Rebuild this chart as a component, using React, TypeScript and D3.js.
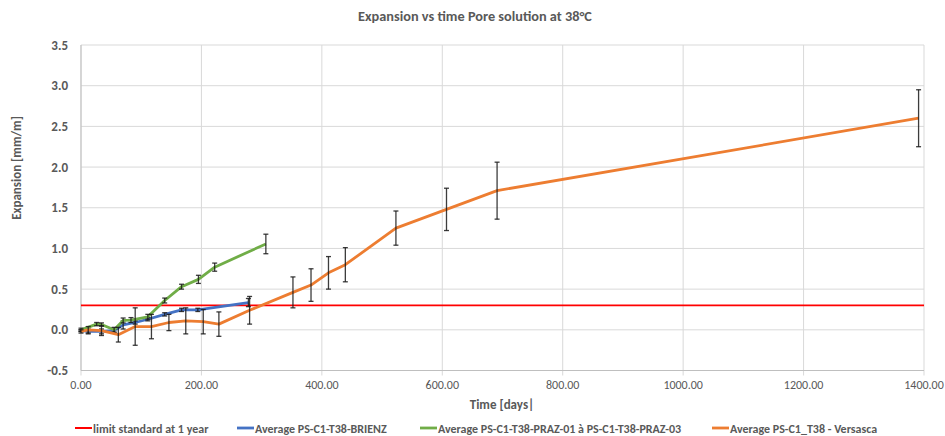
import React from "react";
import * as d3 from "d3";

// ---------- data ----------
const xTicks = [0, 200, 400, 600, 800, 1000, 1200, 1400];
const yTicks = [-0.5, 0, 0.5, 1.0, 1.5, 2.0, 2.5, 3.0, 3.5];

const limitValue = 0.3;

const daysBrienz = [0, 12, 34, 55, 70, 90, 111, 139, 167, 194, 278];
const expBrienz = [-0.01, -0.02, -0.02, -0.01, 0.06, 0.09, 0.13, 0.19, 0.245, 0.245, 0.335];
const errBrienz = [0.01, 0.03, 0.03, 0.02, 0.05, 0.02, 0.02, 0.02, 0.02, 0.02, 0.05];

const daysPraz = [0, 26, 34, 55, 70, 83, 111, 139, 167, 195, 222, 307];
const expPraz = [0.0, 0.07, 0.065, 0.0, 0.115, 0.12, 0.16, 0.36, 0.53, 0.62, 0.77, 1.055];
const errPraz = [0.02, 0.02, 0.02, 0.03, 0.03, 0.03, 0.03, 0.03, 0.03, 0.05, 0.05, 0.12];

const daysVersasca = [0, 12, 34, 62, 90, 117, 146, 174, 203, 229, 280, 352, 382, 411, 439, 523, 607, 691, 1391];
const expVersasca = [-0.02, 0.0, -0.01, -0.06, 0.04, 0.04, 0.09, 0.11, 0.1, 0.07, 0.24, 0.46, 0.55, 0.7, 0.8, 1.25, 1.48, 1.71, 2.6];
const errVersasca = [0.02, 0.04, 0.06, 0.09, 0.23, 0.15, 0.1, 0.16, 0.15, 0.15, 0.17, 0.19, 0.2, 0.2, 0.21, 0.21, 0.26, 0.35, 0.35];

const legendLabels = [
  "limit standard at 1 year",
  "Average PS-C1-T38-BRIENZ",
  "Average PS-C1-T38-PRAZ-01 à PS-C1-T38-PRAZ-03",
  "Average PS-C1_T38 - Versasca",
];

const title = "Expansion vs time Pore solution at 38°C";
const xTitle = "Time [days|";
const yTitle = "Expansion [mm/m]";

// ---------- styles ----------
const W = 945;
const H = 436;
const FONT = "Carlito, 'Liberation Sans Narrow', 'Liberation Sans', Arial, sans-serif";
const TXT = "#595959";
const GRID = "#d9d9d9";
const COLORS = ["#FF0000", "#4472C4", "#70AD47", "#ED7D31"];
const legendX = [75, 237, 420, 712];

type Pt = { d: number; v: number; e: number };
const zipSeries = (ds: number[], vs: number[], es: number[]): Pt[] =>
  ds.map((d, i) => ({ d, v: vs[i], e: es[i] }));

export default function App() {
  const x = d3.scaleLinear().domain([0, 1400]).range([81, 924]);
  const y = d3.scaleLinear().domain([-0.5, 3.5]).range([370.5, 45]);

  const series = [
    { pts: zipSeries(daysBrienz, expBrienz, errBrienz), color: COLORS[1] },
    { pts: zipSeries(daysPraz, expPraz, errPraz), color: COLORS[2] },
    { pts: zipSeries(daysVersasca, expVersasca, errVersasca), color: COLORS[3] },
  ];

  const line = d3
    .line<Pt>()
    .x((p) => x(p.d))
    .y((p) => y(p.v));

  const cap = 2.5;

  return (
    <svg
      width={W}
      height={H}
      style={{ position: "absolute", left: 0, top: 0, background: "#fff" }}
      fontFamily={FONT}
    >
      <rect x={0} y={0} width={W} height={H} fill="#fff" />
      {/* title */}
      <text x={475} y={21} textAnchor="middle" fontSize={14.3} fontWeight="bold" fill={TXT}>
        {title}
      </text>

      {/* grid */}
      {yTicks.map((t) => (
        <line key={"gy" + t} x1={x(0)} x2={x(1400)} y1={y(t)} y2={y(t)} stroke={GRID} strokeWidth={1} />
      ))}
      {xTicks.map((t) => (
        <line key={"gx" + t} x1={x(t)} x2={x(t)} y1={y(3.5)} y2={y(-0.5) + 5} stroke={GRID} strokeWidth={1} />
      ))}
      <line x1={x(0)} x2={x(0)} y1={y(3.5)} y2={y(-0.5)} stroke="#bfbfbf" strokeWidth={1} />
      <line x1={x(0)} x2={x(1400)} y1={y(-0.5)} y2={y(-0.5)} stroke="#bfbfbf" strokeWidth={1} />

      {/* y tick labels */}
      {yTicks.map((t) => (
        <text key={"ly" + t} x={68} y={y(t) + 4.5} textAnchor="end" fontSize={13} fontWeight="bold" fill={TXT}>
          {t.toFixed(1)}
        </text>
      ))}
      {/* x tick labels */}
      {xTicks.map((t) => (
        <text key={"lx" + t} x={x(t)} y={389} textAnchor="middle" fontSize={12} fill={TXT}>
          {t.toFixed(2)}
        </text>
      ))}

      {/* axis titles */}
      <text x={502} y={409} textAnchor="middle" fontSize={13} fontWeight="bold" fill={TXT}>
        {xTitle}
      </text>
      <text
        transform={`translate(21,${168}) rotate(-90)`}
        textAnchor="middle"
        fontSize={13}
        fontWeight="bold"
        fill={TXT}
      >
        {yTitle}
      </text>

      {/* limit line */}
      <line x1={x(0)} x2={x(1400)} y1={y(limitValue)} y2={y(limitValue)} stroke={COLORS[0]} strokeWidth={1.6} />

      {/* series */}
      {series.map((s, si) => (
        <g key={"s" + si}>
          <path d={line(s.pts) || ""} fill="none" stroke={s.color} strokeWidth={2.8} strokeLinejoin="round" />
          {s.pts.map((p, i) => (
            <g key={i} stroke="#1a1a1a" strokeWidth={1.3} strokeOpacity={0.85}>
              <line x1={x(p.d)} x2={x(p.d)} y1={y(p.v + p.e)} y2={y(p.v - p.e)} />
              <line x1={x(p.d) - cap} x2={x(p.d) + cap} y1={y(p.v + p.e)} y2={y(p.v + p.e)} />
              <line x1={x(p.d) - cap} x2={x(p.d) + cap} y1={y(p.v - p.e)} y2={y(p.v - p.e)} />
            </g>
          ))}
        </g>
      ))}

      {/* legend */}
      {legendLabels.map((lab, i) => (
        <g key={"lg" + i}>
          <line x1={legendX[i]} x2={legendX[i] + 17} y1={428} y2={428} stroke={COLORS[i]} strokeWidth={i === 0 ? 2 : 2.8} />
          <text x={legendX[i] + 18} y={432.5} fontSize={12} fontWeight="bold" fill={TXT}>
            {lab}
          </text>
        </g>
      ))}
    </svg>
  );
}
